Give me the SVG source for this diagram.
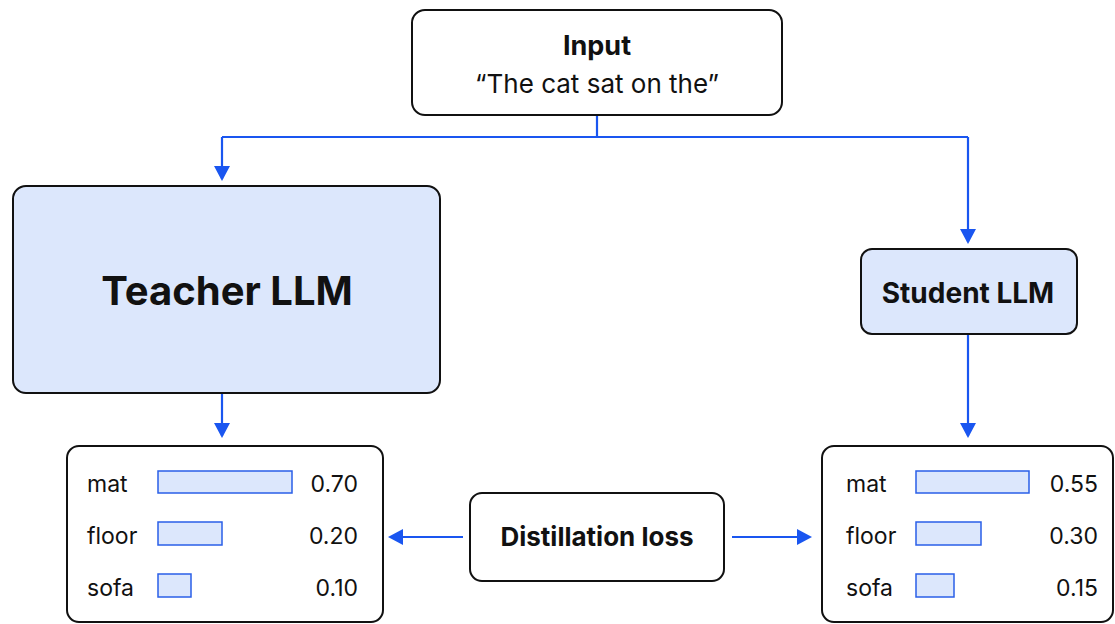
<svg xmlns="http://www.w3.org/2000/svg" width="1115" height="624" viewBox="0 0 1115 624">
<defs>
<marker id="ah" viewBox="0 0 15 16" refX="13" refY="8" markerWidth="15" markerHeight="16" markerUnits="userSpaceOnUse" orient="auto">
<path d="M0,0 L15,8 L0,16 z" fill="#1a56f0"/>
</marker>
<style>
.box{fill:#fff;stroke:#111;stroke-width:2}
.blue{fill:#dce7fc;stroke:#111;stroke-width:2}
.bar{fill:#dce7fc;stroke:#2a5fe8;stroke-width:1.5}
.con{fill:none;stroke:#1a56f0;stroke-width:2.2}
.arr{fill:none;stroke:#1a56f0;stroke-width:2.2;marker-end:url(#ah)}
text{font-family:Inter,"Liberation Sans",sans-serif;fill:#111}
.b{font-weight:700}
.lbl{font-size:23px}
.val{font-size:23px;text-anchor:end}
.c{text-anchor:middle}
</style>
</defs>
<rect width="1115" height="624" fill="#fff"/>
<g id="connectors">
<path class="con" d="M597,115 V137 M222,137 H968"/>
<path class="arr" d="M222,137 V179"/>
<path class="arr" d="M968,137 V242"/>
<path class="arr" d="M222,393 V436"/>
<path class="arr" d="M968,334 V436"/>
<path class="arr" d="M463,537 H390"/>
<path class="arr" d="M732,537 H810"/>
</g>
<g id="input">
<rect class="box" x="412" y="10" width="370" height="105" rx="13"/>
<text class="b c" x="597" y="55" font-size="27">Input</text>
<text class="c" x="597" y="93" font-size="26">“The cat sat on the”</text>
</g>
<g id="teacher">
<rect class="blue" x="13" y="186" width="427" height="207" rx="13"/>
<text class="b c" x="227" y="305" font-size="40">Teacher LLM</text>
</g>
<g id="student">
<rect class="blue" x="861" y="249" width="216" height="85" rx="11"/>
<text class="b c" x="968" y="303" font-size="28">Student LLM</text>
</g>
<g id="teacher-output">
<rect class="box" x="67" y="446" width="316" height="176" rx="12"/>
<text class="lbl" x="87" y="492">mat</text>
<rect class="bar" x="158" y="471" width="134" height="22"/>
<text class="val" x="358" y="492">0.70</text>
<text class="lbl" x="87" y="544">floor</text>
<rect class="bar" x="158" y="522" width="64" height="23"/>
<text class="val" x="358" y="544">0.20</text>
<text class="lbl" x="87" y="596">sofa</text>
<rect class="bar" x="158" y="574" width="33" height="23"/>
<text class="val" x="358" y="596">0.10</text>
</g>
<g id="student-output">
<rect class="box" x="822" y="446" width="291" height="176" rx="12"/>
<text class="lbl" x="846" y="492">mat</text>
<rect class="bar" x="916" y="471" width="113" height="22"/>
<text class="val" x="1098" y="492">0.55</text>
<text class="lbl" x="846" y="544">floor</text>
<rect class="bar" x="916" y="522" width="65" height="23"/>
<text class="val" x="1098" y="544">0.30</text>
<text class="lbl" x="846" y="596">sofa</text>
<rect class="bar" x="916" y="574" width="38" height="23"/>
<text class="val" x="1098" y="596">0.15</text>
</g>
<g id="distillation-loss">
<rect class="box" x="470" y="493" width="254" height="88" rx="12"/>
<text class="b c" x="597" y="546" font-size="26">Distillation loss</text>
</g>
</svg>
